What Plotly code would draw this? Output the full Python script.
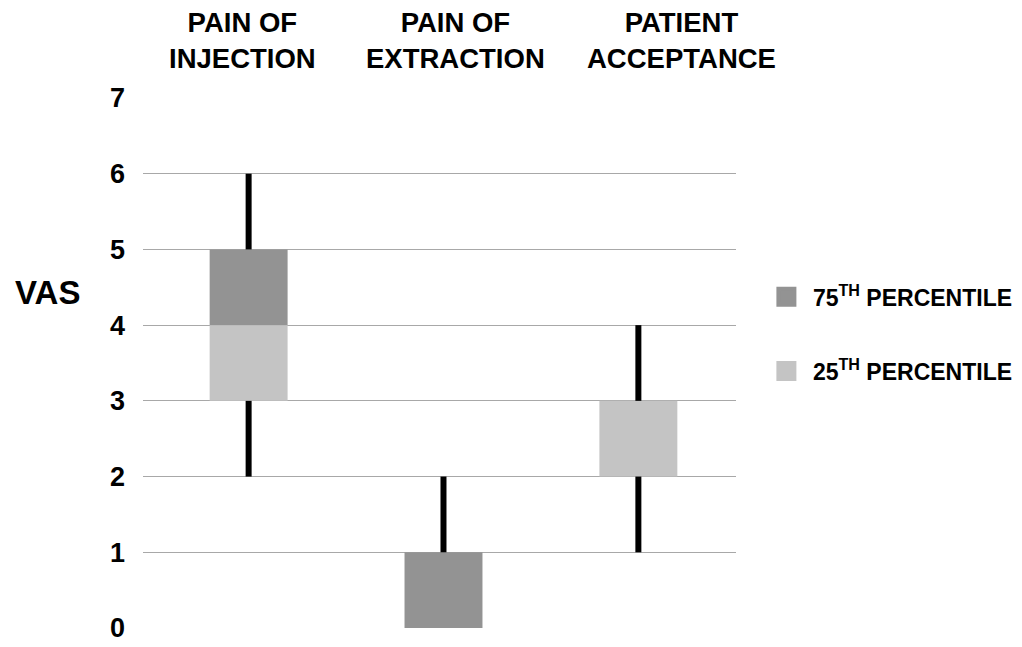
import plotly.graph_objects as go

categories = ["PAIN OF<br>INJECTION", "PAIN OF<br>EXTRACTION", "PATIENT<br>ACCEPTANCE"]
whisker_low = [2, 0, 1]
q1 = [3, 0, 2]
median = [4, 0, 3]
q3 = [5, 1, 3]
whisker_high = [6, 2, 4]
y_ticks = [0, 1, 2, 3, 4, 5, 6, 7]
series_names = ["75<sup>TH</sup> PERCENTILE", "25<sup>TH</sup> PERCENTILE"]

DARK = "#939393"
LIGHT = "#c4c4c4"
FONT = "Liberation Sans, Arial, sans-serif"

xs = list(range(len(categories)))
fig = go.Figure()

# whiskers (two segments each so boxes remain visible)
wx, wy = [], []
for i in xs:
    wx += [i, i, None, i, i, None]
    wy += [whisker_low[i], q1[i], None, q3[i], whisker_high[i], None]
fig.add_trace(go.Scatter(x=wx, y=wy, mode="lines", line=dict(color="black", width=6),
                         showlegend=False, hoverinfo="skip"))

fig.add_trace(go.Bar(x=xs, y=[q3[i] - median[i] for i in xs], base=median, width=0.4,
                     marker=dict(color=DARK, line=dict(width=0)), showlegend=False))
fig.add_trace(go.Bar(x=xs, y=[median[i] - q1[i] for i in xs], base=q1, width=0.4,
                     marker=dict(color=LIGHT, line=dict(width=0)), showlegend=False))

# legend entries
for name, col, grp in [(series_names[0], DARK, "a"), (series_names[1], LIGHT, "b")]:
    fig.add_trace(go.Scatter(x=[None], y=[None], mode="markers", name=name, legendgroup=grp,
                             marker=dict(symbol="square", size=16, color=col,
                                         line=dict(color=col, width=4))))

label_shift = [-6, 12, 43]
for i, c in enumerate(categories):
    fig.add_annotation(x=i, y=1, xref="x", yref="paper", text=c, showarrow=False,
                       xshift=label_shift[i], yshift=22, yanchor="bottom",
                       font=dict(family=FONT, size=27.5, color="black", weight="bold"),
                       align="center")

fig.add_annotation(x=0, y=4.43, xref="paper", yref="y", text="VAS", showarrow=False,
                   xanchor="center", xshift=-96,
                   font=dict(family=FONT, size=33, color="black", weight="bold"))

fig.update_layout(
    width=1022, height=647,
    margin=dict(l=135, r=292, t=90, b=17),
    paper_bgcolor="white", plot_bgcolor="white",
    barmode="overlay",
    font=dict(family=FONT, color="black"),
    showlegend=True,
    legend=dict(x=1.0403, y=0.6657, xanchor="left", yanchor="top",
                bgcolor="rgba(0,0,0,0)",
                font=dict(family=FONT, size=23, color="black", weight="bold"),
                tracegroupgap=41.5, traceorder="grouped", itemwidth=43),
    xaxis=dict(range=[-0.542, 2.501], showticklabels=False, showgrid=False,
               zeroline=False, showline=False, ticks=""),
    yaxis=dict(range=[0, 7], tickvals=y_ticks, showgrid=True, gridcolor="#a8a8a8",
               gridwidth=1, zeroline=False, showline=False, ticks="",
               ticklabelstandoff=17,
               tickfont=dict(family=FONT, size=27, color="black", weight="bold")),
)

fig.write_html("out.html")
